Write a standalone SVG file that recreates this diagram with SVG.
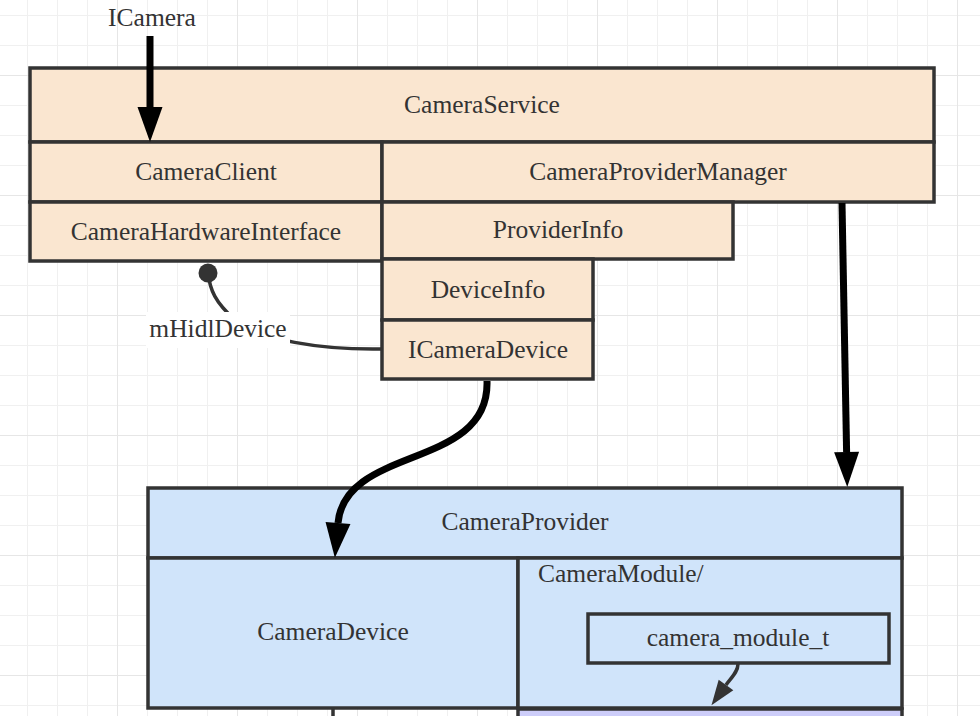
<svg xmlns="http://www.w3.org/2000/svg" width="980" height="716" viewBox="0 0 980 716">
<style>
.peach{fill:#fae6d0;stroke:#333;stroke-width:3.5}
.blue{fill:#d0e4fa;stroke:#333;stroke-width:3.5}
.purple{fill:#cdcdf9;stroke:#333;stroke-width:3.5}
text{font-family:"Liberation Serif","Times New Roman",serif;font-size:25.5px;fill:#333;text-anchor:middle}
.thick{fill:none;stroke:#000;stroke-width:7}
.thin{fill:none;stroke:#333;stroke-width:3.5}
</style>
<defs>
<pattern id="minor" x="27" y="15" width="30" height="30" patternUnits="userSpaceOnUse">
<path d="M0,0H30M0,0V30" fill="none" stroke="#f0f0f0" stroke-width="2"/>
</pattern>
<pattern id="major" x="117" y="75" width="120" height="120" patternUnits="userSpaceOnUse">
<path d="M0,0H120M0,0V120" fill="none" stroke="#e6e6e6" stroke-width="2"/>
</pattern>
<marker id="bigArrow" markerUnits="userSpaceOnUse" markerWidth="36" markerHeight="26" refX="0" refY="12.5" orient="auto" overflow="visible">
<path d="M0,0L35,12.5L0,25z" fill="#000"/>
</marker>
<marker id="smallArrow" markerUnits="userSpaceOnUse" markerWidth="26" markerHeight="20" refX="0" refY="9" orient="auto" overflow="visible">
<path d="M0,0L25,9L0,18z" fill="#333"/>
</marker>
</defs>
<rect width="980" height="716" fill="#fff"/>
<rect width="980" height="716" fill="url(#minor)"/>
<rect width="980" height="716" fill="url(#major)"/>

<g id="CameraService"><rect class="peach" x="30" y="68" width="904" height="74"/><text x="482" y="113">CameraService</text></g>
<g id="CameraClient"><rect class="peach" x="30" y="142" width="352" height="60"/><text x="206" y="180">CameraClient</text></g>
<g id="CameraProviderManager"><rect class="peach" x="382" y="142" width="552" height="60"/><text x="658" y="180">CameraProviderManager</text></g>
<g id="CameraHardwareInterface"><rect class="peach" x="30" y="202" width="352" height="59"/><text x="206" y="240">CameraHardwareInterface</text></g>
<g id="ProviderInfo"><rect class="peach" x="382" y="202" width="351" height="57"/><text x="558" y="238">ProviderInfo</text></g>
<g id="DeviceInfo"><rect class="peach" x="382" y="259" width="211" height="61"/><text x="488" y="298">DeviceInfo</text></g>
<g id="ICameraDevice"><rect class="peach" x="382" y="320" width="211" height="59"/><text x="488" y="358">ICameraDevice</text></g>

<g id="CameraProvider"><rect class="blue" x="148" y="488" width="754" height="70"/><text x="525" y="530">CameraProvider</text></g>
<g id="CameraDevice"><rect class="blue" x="148" y="558" width="370" height="150"/><text x="333" y="640">CameraDevice</text></g>
<g id="CameraModule"><rect class="blue" x="518" y="558" width="384" height="150"/><text x="538" y="582" style="text-anchor:start">CameraModule/</text></g>
<g id="camera_module_t"><rect class="blue" x="588" y="614" width="301" height="49"/><text x="738" y="646">camera_module_t</text></g>
<g id="lowerBox"><rect class="purple" x="518" y="709" width="384" height="30"/></g>

<g id="connectors">
<path class="thick" d="M150,36V107" marker-end="url(#bigArrow)"/>
<text x="152" y="26">ICamera</text>
<path class="thick" d="M842,203L846.6,452" marker-end="url(#bigArrow)"/>
<path class="thick" d="M487,381C490,470 345,445 338,523" marker-end="url(#bigArrow)"/>
<path class="thin" d="M382,349C320,350 260,340 235,320C215,302 210,290 208,273"/>
<circle cx="208" cy="273" r="9.5" fill="#333"/>
<rect x="146" y="312" width="144" height="36" fill="#fff"/>
<text x="218" y="337">mHidlDevice</text>
<path class="thin" d="M738,664C738,672 731,678 726,685" marker-end="url(#smallArrow)"/>
<path class="thin" d="M333,709V716"/>
</g>
</svg>
